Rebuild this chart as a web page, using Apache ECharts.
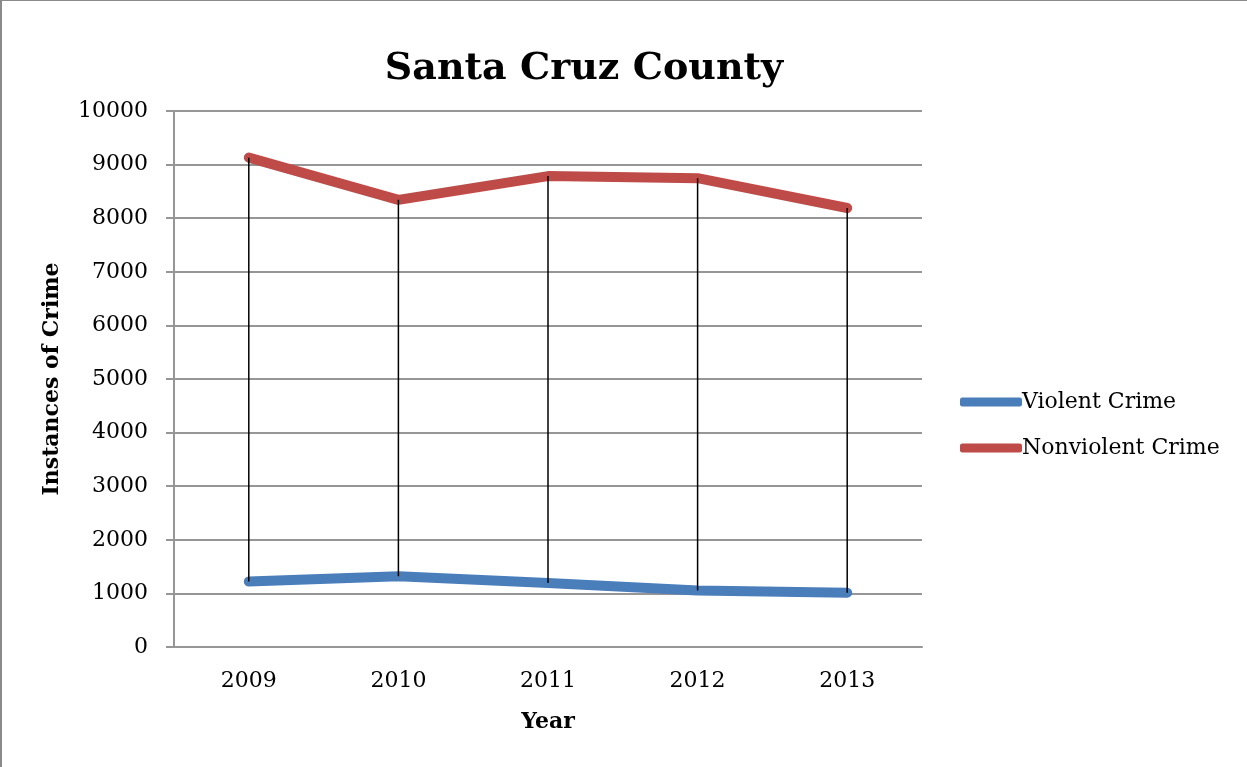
<!DOCTYPE html>
<html>
<head>
<meta charset="utf-8">
<script src="https://cdn.jsdelivr.net/npm/echarts@6/dist/echarts.min.js"></script>
<style>
  html, body { margin: 0; padding: 0; background: #fff; }
  #chart { position: absolute; left: 0; top: 0; width: 1247px; height: 767px;
           box-sizing: border-box; border-top: 1px solid #8a8a8a; border-left: 2px solid #8a8a8a; }
</style>
</head>
<body>
<div id="chart"></div>
<script>
// Santa Cruz County crime counts by year
const years = ['2009', '2010', '2011', '2012', '2013'];
const violentCrime = [1222, 1320, 1195, 1053, 1012];
const nonviolentCrime = [9130, 8343, 8785, 8747, 8190];
const yTicks = [0, 1000, 2000, 3000, 4000, 5000, 6000, 7000, 8000, 9000, 10000];

const serif = '"DejaVu Serif", "Liberation Serif", serif';
const grayLine = '#969696';

const chart = echarts.init(document.getElementById('chart'), null, { renderer: 'canvas' });

chart.setOption({
  backgroundColor: '#ffffff',
  animation: false,
  title: {
    text: 'Santa Cruz County',
    left: 577,
    top: 44,
    textAlign: 'center',
    textStyle: { fontFamily: serif, fontWeight: 'bold', fontSize: 38, color: '#000' }
  },
  legend: {
    orient: 'vertical',
    left: 953,
    top: 385,
    itemWidth: 62,
    itemHeight: 9,
    itemGap: 24,
    icon: 'roundRect',
    data: ['Violent Crime', 'Nonviolent Crime'],
    textStyle: { fontFamily: serif, fontSize: 22, color: '#000', padding: [0, 0, 0, -5] }
  },
  grid: { left: 172, right: 325, top: 110, bottom: 120, containLabel: false },
  xAxis: {
    type: 'category',
    data: years,
    boundaryGap: true,
    name: 'Year',
    nameLocation: 'middle',
    nameGap: 64,
    nameTextStyle: { fontFamily: serif, fontWeight: 'bold', fontSize: 22, color: '#000' },
    axisLine: { show: true, lineStyle: { color: grayLine, width: 2 } },
    axisTick: { show: false },
    axisLabel: { fontFamily: serif, fontSize: 22, color: '#000', margin: 23 },
    splitLine: { show: false }
  },
  yAxis: {
    type: 'value',
    min: yTicks[0],
    max: yTicks[yTicks.length - 1],
    interval: 1000,
    name: 'Instances of Crime',
    nameLocation: 'middle',
    nameGap: 111,
    nameTextStyle: { fontFamily: serif, fontWeight: 'bold', fontSize: 22, color: '#000' },
    axisLine: { show: true, lineStyle: { color: grayLine, width: 2 } },
    axisTick: { show: true, length: 8, lineStyle: { color: grayLine, width: 2 } },
    axisLabel: {
      fontFamily: serif, fontSize: 22, color: '#000', margin: 26,
      formatter: function (v) { return String(v); }
    },
    splitLine: { show: true, lineStyle: { color: grayLine, width: 2 } }
  },
  series: [
    {
      name: 'Violent Crime',
      type: 'line',
      data: violentCrime,
      symbol: 'none',
      color: '#4a7ebb',
      lineStyle: { width: 10, color: '#4a7ebb', cap: 'round', join: 'round' },
      z: 3
    },
    {
      name: 'Nonviolent Crime',
      type: 'line',
      data: nonviolentCrime,
      symbol: 'none',
      color: '#be4b48',
      lineStyle: { width: 10, color: '#be4b48', cap: 'round', join: 'round' },
      z: 3
    },
    {
      // drop lines joining the two series at each year
      name: 'dropLines',
      type: 'custom',
      data: years.map((y, i) => [i, violentCrime[i], nonviolentCrime[i]]),
      encode: { x: 0, y: [1, 2] },
      renderItem: function (params, api) {
        const lo = api.coord([api.value(0), api.value(1)]);
        const hi = api.coord([api.value(0), api.value(2)]);
        return {
          type: 'line',
          shape: { x1: lo[0], y1: lo[1], x2: hi[0], y2: hi[1] },
          style: { stroke: '#000', lineWidth: 1.5 }
        };
      },
      z: 5,
      silent: true
    }
  ]
});
</script>
</body>
</html>
